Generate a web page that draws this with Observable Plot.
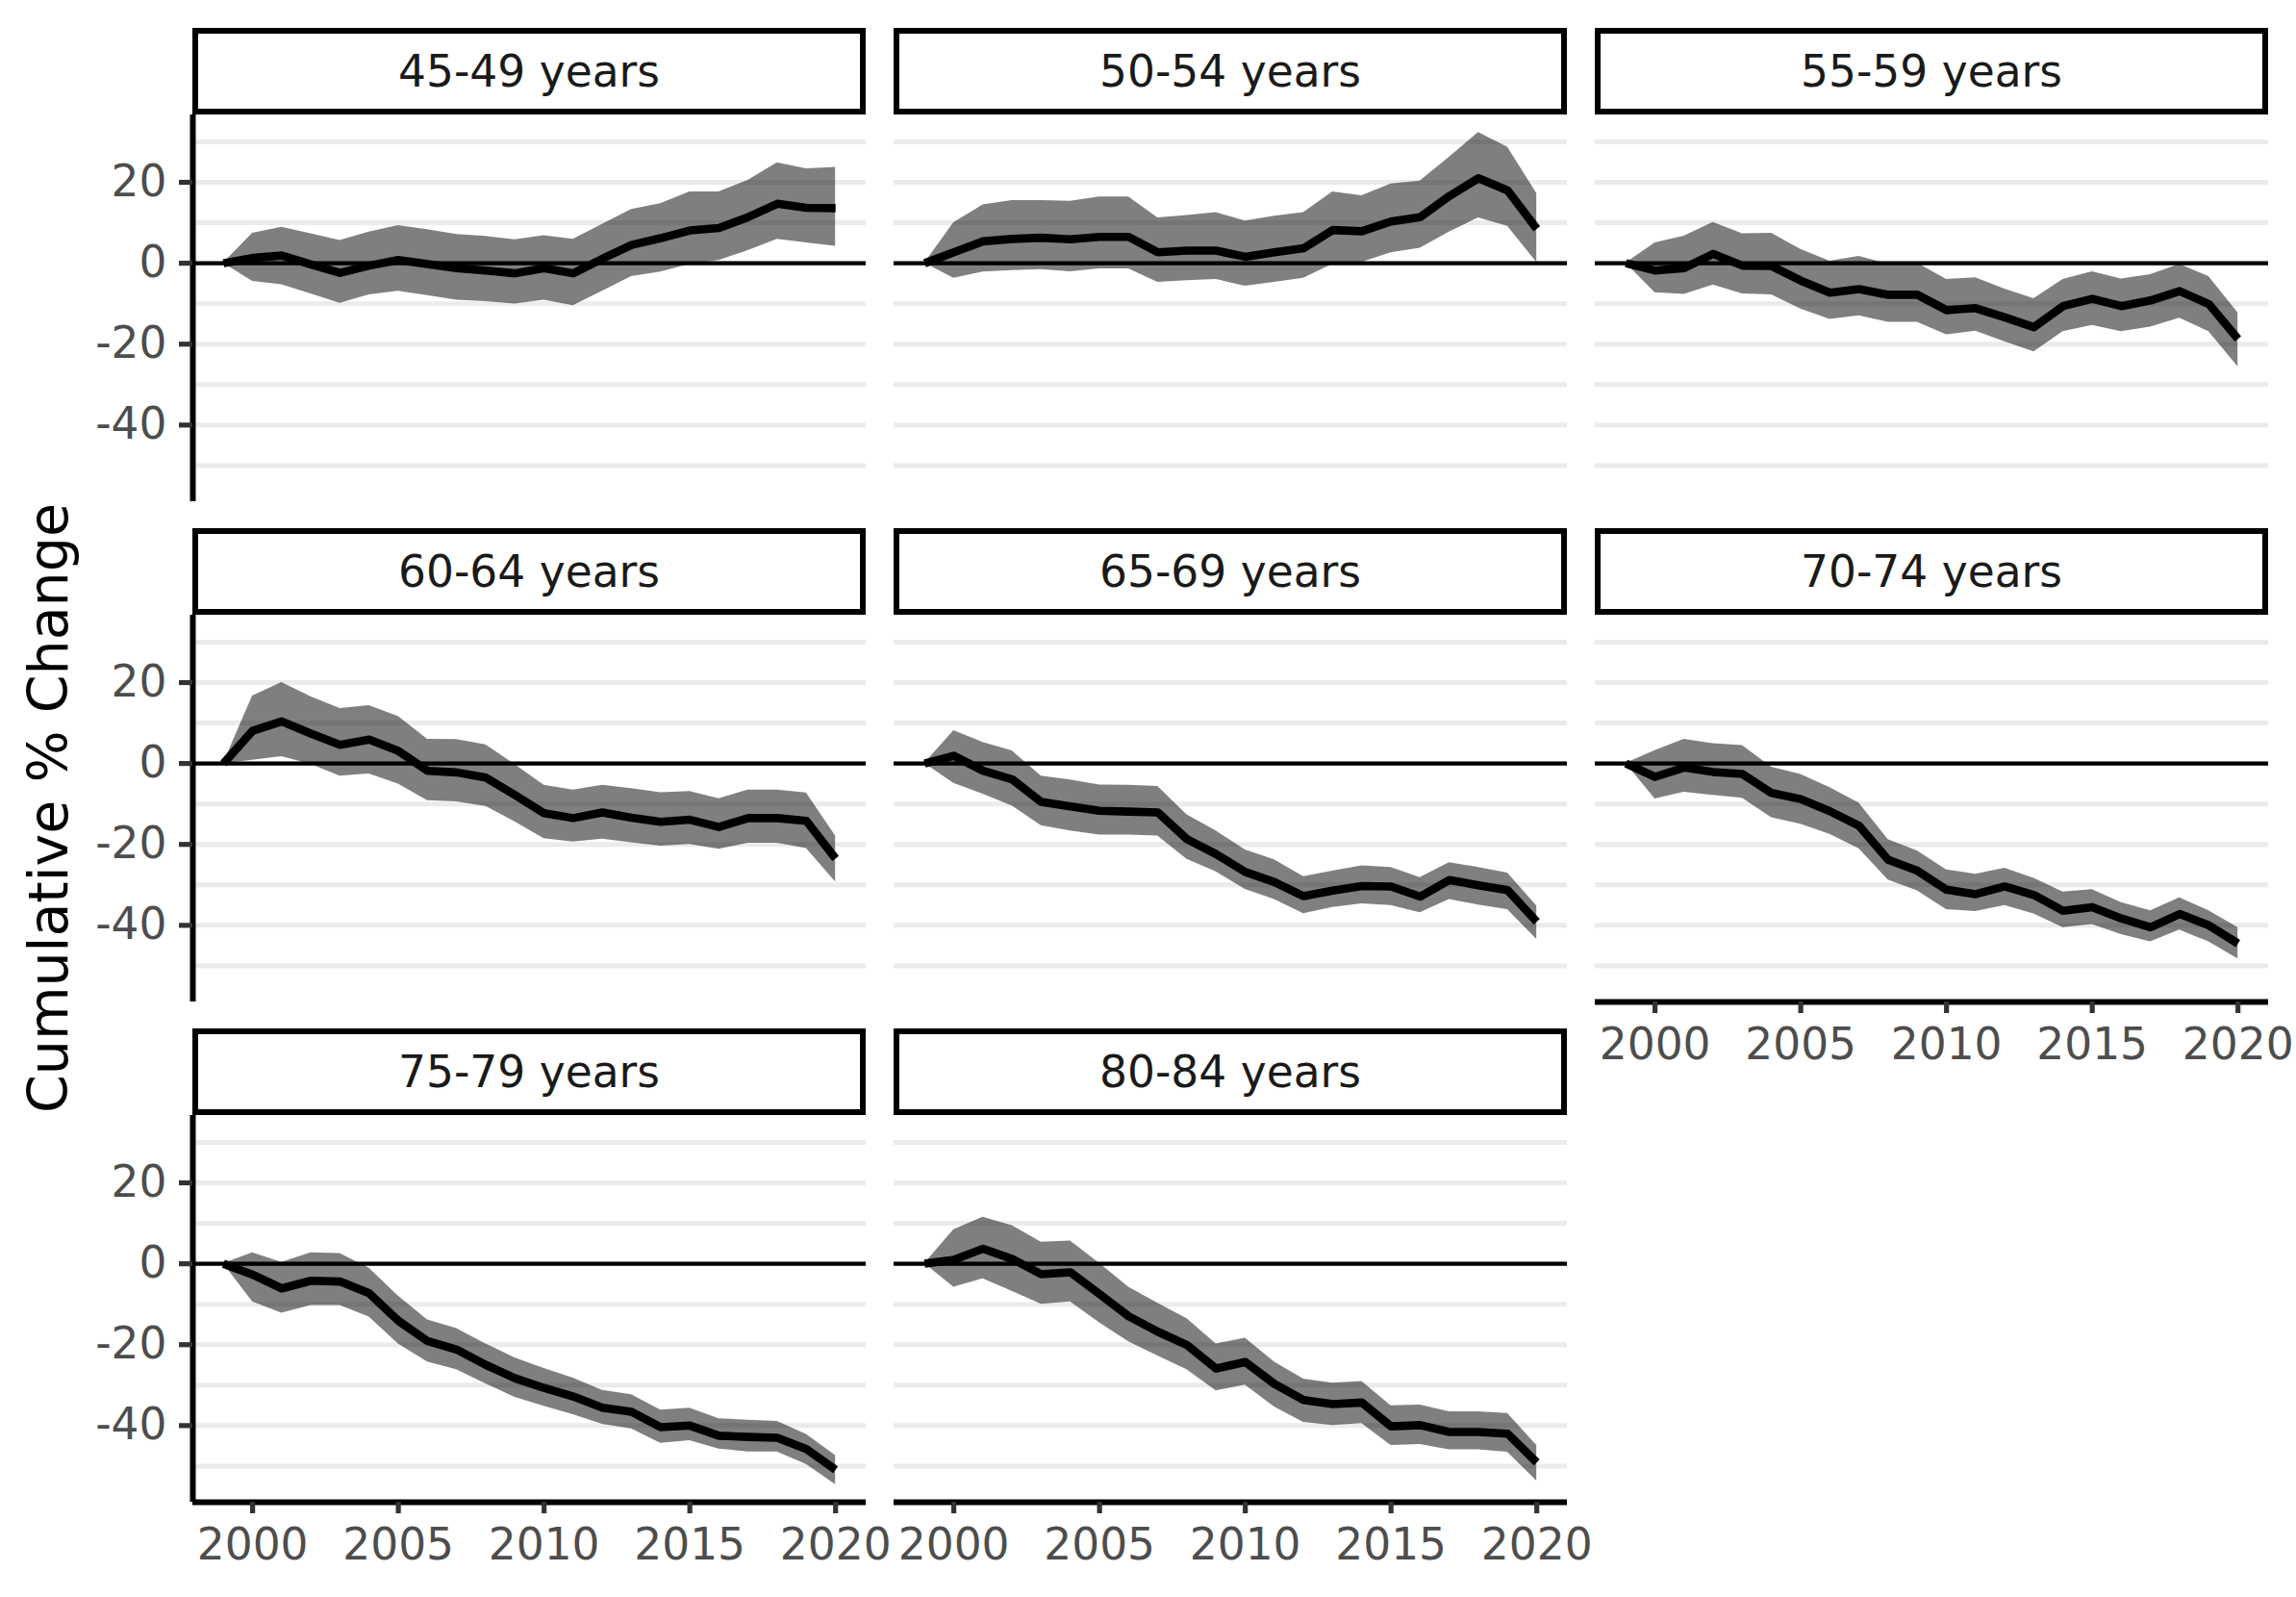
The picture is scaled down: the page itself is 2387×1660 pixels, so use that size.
<!DOCTYPE html>
<html><head><meta charset="utf-8">
<script src="https://cdn.jsdelivr.net/npm/d3@7"></script>
<script src="https://cdn.jsdelivr.net/npm/@observablehq/plot@0.6"></script>
<style>
html,body{margin:0;padding:0;background:#fff;}
#chart{position:relative;width:2387px;height:1660px;font-family:"DejaVu Sans",sans-serif;overflow:hidden;}
.strip{position:absolute;box-sizing:border-box;border:6.2px solid #000;background:#fff;display:flex;align-items:center;justify-content:center;font-size:45.5px;color:#1a1a1a;white-space:nowrap;}
.ytitle{position:absolute;font-size:57px;line-height:1;white-space:nowrap;transform:translate(-50%,-50%) rotate(-90deg);color:#000;}
.panel{position:absolute;}
</style></head><body><div id="chart"></div>
<script>
const years = [1999,2000,2001,2002,2003,2004,2005,2006,2007,2008,2009,2010,2011,2012,2013,2014,2015,2016,2017,2018,2019,2020];
const groups = ["45-49 years","50-54 years","55-59 years","60-64 years","65-69 years","70-74 years","75-79 years","80-84 years"];

const est4549 = [0,1.3,1.9,-0.3,-2.4,-0.6,0.8,-0.2,-1.2,-1.8,-2.5,-1.2,-2.5,1.1,4.5,6.2,8.1,8.7,11.4,14.7,13.7,13.6];
const hi4549  = [0,7.4,8.9,7.3,5.6,7.7,9.3,8.3,7.1,6.6,5.8,6.8,5.9,9.6,13.3,14.7,17.6,17.6,20.5,24.8,23.3,23.7];
const lo4549  = [0,-4.5,-5.3,-7.6,-9.9,-7.8,-6.9,-8.0,-9.1,-9.5,-10.1,-9.1,-10.5,-6.9,-3.3,-2.2,-0.3,0.7,3.1,5.9,5.0,4.2];

const est5054 = [0,2.7,5.4,6.0,6.3,5.9,6.5,6.5,2.7,3.1,3.1,1.6,2.7,3.7,8.2,7.9,10.3,11.4,16.6,21.0,18.0,8.5];
const hi5054  = [0,10.0,14.4,15.5,15.5,15.3,16.4,16.4,11.2,11.8,12.5,10.4,11.6,12.5,17.6,16.7,19.6,20.3,26.2,32.3,28.7,17.2];
const lo5054  = [0,-3.7,-2.2,-1.8,-1.6,-2.1,-1.4,-1.4,-4.7,-4.3,-4.0,-5.7,-4.7,-3.7,-0.3,0.2,2.6,3.7,7.7,11.2,9.1,0.2];

const est5559 = [0,-1.8,-1.2,2.3,-0.6,-0.7,-4.3,-7.3,-6.4,-7.8,-7.8,-11.6,-11.1,-13.4,-15.8,-10.6,-8.8,-10.6,-9.2,-6.9,-10.1,-18.7];
const hi5559  = [0,5.0,6.7,10.1,7.3,7.4,3.4,0.5,1.7,-0.2,0,-4.0,-3.6,-6.4,-8.8,-4.0,-2.1,-3.9,-2.8,-0.3,-3.3,-12.3];
const lo5559  = [0,-7.3,-7.7,-5.4,-7.6,-7.8,-11.3,-13.9,-13.0,-14.6,-14.6,-17.7,-16.8,-19.4,-21.9,-16.9,-15.4,-16.9,-15.8,-13.6,-16.9,-25.6];

const est6064 = [0,8.1,10.4,7.4,4.6,5.9,3.1,-1.8,-2.2,-3.5,-7.8,-12.3,-13.5,-12.1,-13.4,-14.4,-13.9,-15.7,-13.5,-13.5,-14.2,-23.5];
const hi6064  = [0,16.7,20.0,16.5,13.6,14.3,11.6,6.0,5.9,4.6,-0.3,-5.4,-6.6,-5.4,-6.2,-7.2,-6.9,-8.7,-6.6,-6.6,-7.3,-17.9];
const lo6064  = [0,0.8,1.7,-0.2,-3.1,-2.6,-5.1,-9.2,-9.5,-10.6,-14.4,-18.6,-19.4,-18.7,-19.6,-20.4,-20.0,-21.2,-19.7,-19.7,-21.0,-29.3];

const est6569 = [0,1.9,-1.8,-3.9,-9.5,-10.6,-11.7,-11.9,-12.1,-18.7,-22.4,-26.8,-29.3,-32.8,-31.4,-30.3,-30.4,-32.9,-28.8,-30.1,-31.3,-39.1];
const hi6569  = [0,8.1,5.2,3.1,-3.1,-4.1,-5.3,-5.4,-5.7,-12.7,-16.7,-21.4,-23.8,-28.0,-26.6,-25.3,-25.7,-28.2,-24.5,-25.7,-27.1,-35.2];
const lo6569  = [0,-4.9,-7.6,-10.5,-15.4,-16.7,-17.7,-17.7,-17.9,-23.7,-26.8,-31.1,-33.6,-37.1,-35.6,-34.7,-35.1,-36.9,-33.6,-35.0,-36.1,-43.5];

const est7074 = [0,-3.3,-1.0,-2.1,-2.6,-7.3,-8.8,-11.8,-15.4,-23.8,-26.5,-31.2,-32.3,-30.4,-32.5,-36.4,-35.5,-38.3,-40.5,-37.2,-40.0,-44.5];
const hi7074  = [0,3.2,6.0,4.9,4.4,-0.9,-2.7,-6.0,-9.8,-18.8,-21.6,-26.3,-27.4,-25.9,-28.4,-31.8,-31.2,-34.4,-36.4,-33.2,-36.4,-40.6];
const lo7074  = [0,-8.8,-7.1,-7.9,-8.6,-13.4,-15.0,-17.5,-21.1,-28.8,-31.5,-36.1,-36.6,-35.1,-37.2,-40.6,-39.8,-42.3,-44.1,-41.2,-44.1,-48.3];

const est7579 = [0,-2.7,-6.1,-4.2,-4.4,-7.3,-14.1,-19.1,-21.2,-25.0,-28.3,-30.7,-32.8,-35.6,-36.6,-40.4,-40.0,-42.5,-42.8,-43.0,-45.8,-50.9];
const hi7579  = [0,2.7,0.3,2.7,2.5,-1.1,-8.0,-13.9,-16.0,-19.8,-23.3,-25.9,-28.3,-31.3,-32.4,-36.2,-35.7,-38.3,-38.7,-39.0,-42.2,-47.4];
const lo7579  = [0,-9.4,-12.2,-10.3,-10.3,-13.2,-19.8,-24.3,-26.2,-29.7,-33.0,-35.2,-37.3,-39.7,-40.8,-44.4,-43.7,-45.8,-46.5,-46.5,-49.6,-54.6];

const est8084 = [0,1.0,3.7,1.2,-2.6,-2.1,-7.5,-13.0,-16.8,-20.1,-25.9,-24.3,-29.7,-33.7,-34.7,-34.3,-40.2,-39.9,-41.6,-41.6,-42.0,-49.1];
const hi8084  = [0,8.4,11.5,9.4,5.3,5.6,0.1,-5.8,-9.8,-13.6,-19.8,-18.4,-24.3,-28.5,-29.5,-29.1,-35.1,-34.9,-36.6,-36.6,-37.0,-44.9];
const lo8084  = [0,-5.8,-3.7,-6.8,-10.0,-9.4,-14.6,-19.3,-22.8,-26.2,-31.4,-30.0,-35.4,-39.2,-40.0,-39.5,-44.9,-44.7,-46.0,-46.0,-46.6,-53.7];

const yTicks = [-40, -20, 0, 20];
const yGrid = [-50, -40, -30, -20, -10, 0, 10, 20, 30];
const xTicks = [2000, 2005, 2010, 2015, 2020];
const yTitle = "Cumulative % Change";

const series = [
  [est4549, lo4549, hi4549], [est5054, lo5054, hi5054], [est5559, lo5559, hi5559],
  [est6064, lo6064, hi6064], [est6569, lo6569, hi6569], [est7074, lo7074, hi7074],
  [est7579, lo7579, hi7579], [est8084, lo8084, hi8084]
];

const table = groups.map((g, i) => years.map((year, j) => ({
  group: g, year, est: series[i][0][j], lo: series[i][1][j], hi: series[i][2][j]
})));

// ggplot-like 5% expansion of shared scales
const allLo = d3.min(table.flat(), d => d.lo), allHi = d3.max(table.flat(), d => d.hi);
const yPad = (allHi - allLo) * 0.05;
const yDomain = [allLo - yPad, allHi + yPad];
const xMin = d3.min(years), xMax = d3.max(years);
const xPad = (xMax - xMin) * 0.05;
const xDomain = [xMin - xPad, xMax + xPad];

const chart = document.getElementById("chart");
const W = 700, H = 402;
const colLeft = [200, 929, 1658];
const rowTop = [119, 639, 1159];
const stripH = 90;
const ncol = 3;
const font = "DejaVu Sans";

groups.forEach((g, i) => {
  const col = i % ncol, row = Math.floor(i / ncol);
  const isLeft = col === 0;
  const isBottom = i + ncol >= groups.length;
  const mL = isLeft ? 190 : 10, mR = 10, mT = 10, mB = isBottom ? 90 : 10;
  const data = table[i];
  const marks = [
    Plot.gridY(yGrid, {stroke: "#ebebeb", strokeOpacity: 1, strokeWidth: 5}),
    Plot.areaY(data, {x: "year", y1: "lo", y2: "hi", fill: "black", fillOpacity: 0.5}),
    Plot.ruleY([0], {stroke: "black", strokeWidth: 4.4}),
    Plot.lineY(data, {x: "year", y: "est", stroke: "black", strokeWidth: 8.6, strokeLinejoin: "round", strokeLinecap: "butt"})
  ];
  if (isLeft) {
    marks.push(Plot.ruleX([xDomain[0]], {stroke: "black", strokeWidth: 6, strokeLinecap: "butt"}));
    marks.push(Plot.axisY(yTicks, {tickSize: 14, tickPadding: 13, fontSize: 45.5, stroke: "#333333", fill: "#4d4d4d", strokeWidth: 5.2, tickFormat: d => String(d), label: null}));
  }
  if (isBottom) {
    marks.push(Plot.ruleY([yDomain[0]], {stroke: "black", strokeWidth: 6, strokeLinecap: "butt"}));
    marks.push(Plot.axisX(xTicks, {tickSize: 12, tickPadding: 15, fontSize: 45.5, stroke: "#333333", fill: "#4d4d4d", strokeWidth: 5.2, tickFormat: d => String(d), label: null}));
  }
  const svg = Plot.plot({
    width: W + mL + mR, height: H + mT + mB,
    marginLeft: mL, marginRight: mR, marginTop: mT, marginBottom: mB,
    x: {domain: xDomain, axis: null},
    y: {domain: yDomain, axis: null},
    style: {fontFamily: font, background: "transparent", overflow: "visible", maxWidth: "none"},
    marks
  });
  svg.classList.add("panel");
  svg.style.left = (colLeft[col] - mL) + "px";
  svg.style.top = (rowTop[row] - mT) + "px";
  chart.appendChild(svg);

  const strip = document.createElement("div");
  strip.className = "strip";
  strip.style.left = colLeft[col] + "px";
  strip.style.top = (rowTop[row] - stripH) + "px";
  strip.style.width = W + "px";
  strip.style.height = stripH + "px";
  strip.textContent = g;
  chart.appendChild(strip);
});

const yt = document.createElement("div");
yt.className = "ytitle";
yt.style.left = "50px";
yt.style.top = ((rowTop[0] + rowTop[2] + H) / 2) + "px";
yt.textContent = yTitle;
chart.appendChild(yt);
</script></body></html>
